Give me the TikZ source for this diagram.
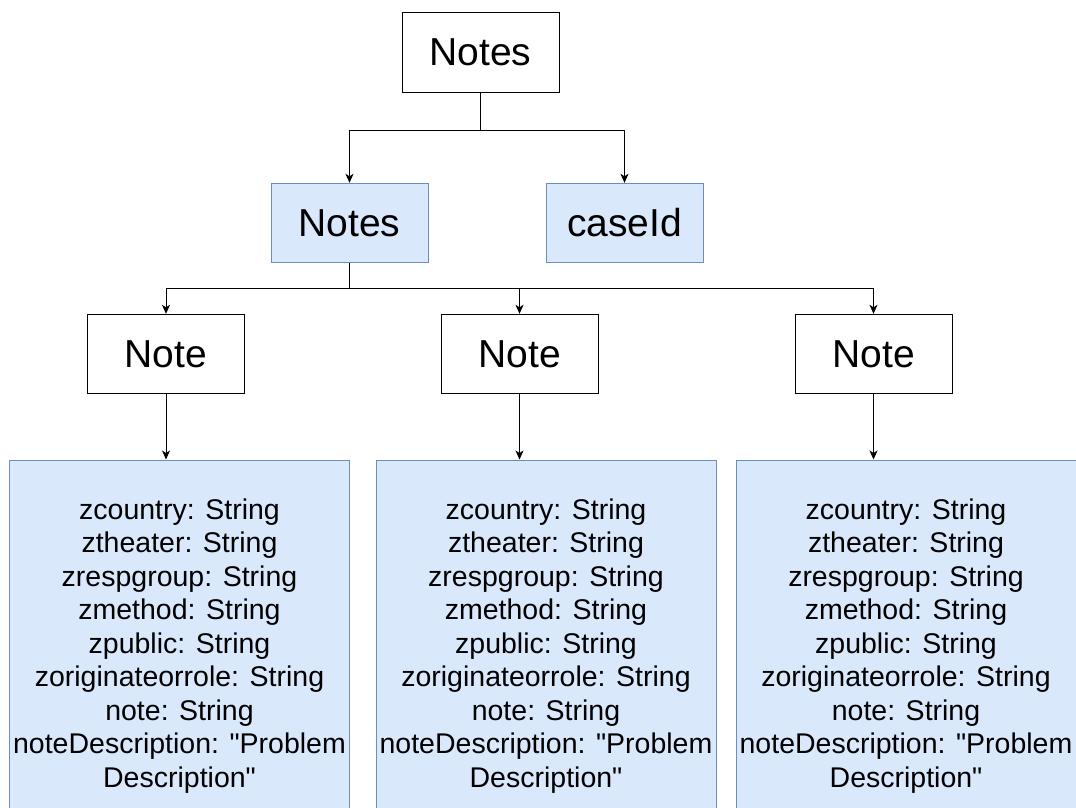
\documentclass[tikz,border=0pt]{standalone}
\usepackage{fontspec}
\setmainfont{Liberation Sans}
\usetikzlibrary{arrows.meta}
\definecolor{bfill}{HTML}{DAE8FC}
\definecolor{bline}{HTML}{6C8EBF}
\begin{document}
\begin{tikzpicture}[x=1pt,y=-1pt,
  plainbox/.style={draw=black,line width=1pt,fill=white,minimum width=157pt,minimum height=79pt,inner sep=0pt,font=\fontsize{39}{47}\selectfont},
  bluebox/.style={draw=bline,line width=1pt,fill=bfill,minimum width=157pt,minimum height=79pt,inner sep=0pt,font=\fontsize{39}{47}\selectfont},
  fieldbox/.style={draw=bline,line width=1pt,fill=bfill,minimum width=340pt,minimum height=372pt,inner sep=0pt,align=center,font=\fontsize{28.5}{33.5}\selectfont},
  conn/.style={draw=black,line width=1pt},
  arr/.style={conn,-{Stealth[length=9pt,width=8pt,inset=2.5pt]}}]
\useasboundingbox (0,0) rectangle (1076,808);
\clip (0,0) rectangle (1076,808);
\fill[white] (0,0) rectangle (1076,808);

\node[plainbox] (top) at (480.5,52.5) {Notes};
\node[bluebox] (notes) at (349.5,222.8) {Notes};
\node[bluebox] (case) at (624.5,222.8) {caseId};

\node[plainbox] (n1) at (166,353.8) {Note};
\node[plainbox] (n2) at (519.5,353.8) {Note};
\node[plainbox] (n3) at (873.5,353.8) {Note};

\newcommand{\fieldtext}{zcountry: String\\ztheater: String\\zrespgroup: String\\zmethod: String\\zpublic: String\\zoriginateorrole: String\\note: String\\noteDescription: \textquotedbl Problem\\Description\textquotedbl}
\node[fieldbox] (f1) at (179.5,646) {\fieldtext};
\node[fieldbox] (f2) at (546,646) {\fieldtext};
\node[fieldbox] (f3) at (906,646) {\fieldtext};

\coordinate (j1) at (480.5,130.7);
\coordinate (j2) at (349.5,288.3);

\draw[conn] (top.south) -- (j1);
\draw[arr] (j1) -| (notes.north);
\draw[arr] (j1) -| (case.north);
\draw[conn] (notes.south) -- (j2);
\draw[arr] (j2) -| (n1.north);
\draw[arr] (j2) -| (n2.north);
\draw[arr] (j2) -| (n3.north);
\draw[arr] (n1.south) -- (n1.south |- f1.north);
\draw[arr] (n2.south) -- (n2.south |- f2.north);
\draw[arr] (n3.south) -- (n3.south |- f3.north);
\end{tikzpicture}
\end{document}
